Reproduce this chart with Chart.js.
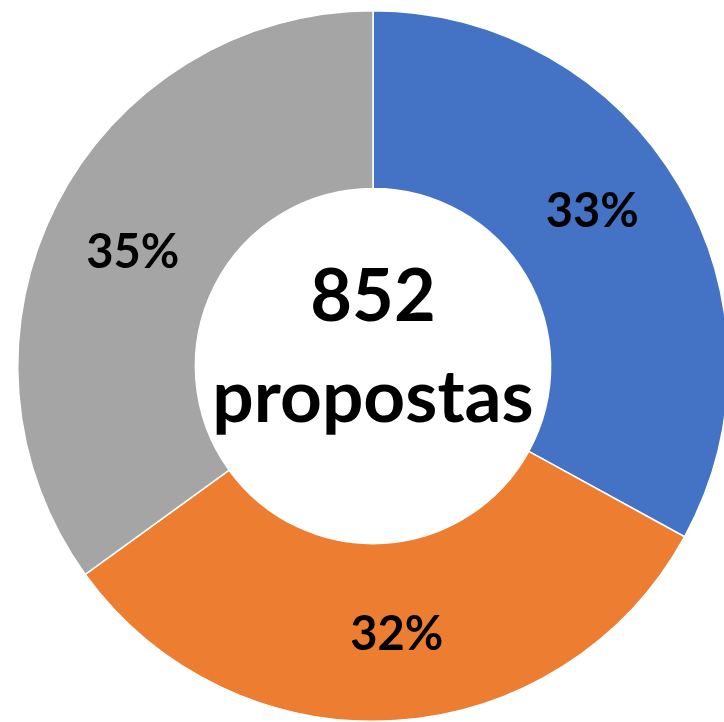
<!DOCTYPE html>
<html>
<head>
<meta charset="utf-8">
<script src="https://cdn.jsdelivr.net/npm/chart.js@4/dist/chart.umd.min.js"></script>
<style>
  html, body { margin: 0; padding: 0; background: #fff; overflow: hidden; }
  #wrap { position: absolute; left: 0; top: 0; width: 746px; height: 732px; }
</style>
</head>
<body>
<div id="wrap"><canvas id="donut"></canvas></div>
<script>
// Proposals per group (total 852)
const categories = ['Grupo A', 'Grupo B', 'Grupo C'];
const proposals = [281, 273, 298];
const percentLabels = ['33%', '32%', '35%'];
const centerLines = ['852', 'propostas'];
const colors = ['#4472C4', '#ED7D31', '#A5A5A5'];

// Draws the percentages on the ring and the total in the hole
const donutText = {
    id: 'donutText',
    afterDatasetsDraw(chart) {
        const ctx = chart.ctx;
        const meta = chart.getDatasetMeta(0);
        // small nudges so labels sit where the original put them
        const nudge = [[-10, -18], [7, 3], [-3, 8]];
        ctx.save();
        ctx.fillStyle = '#000';
        ctx.textAlign = 'center';
        ctx.textBaseline = 'middle';
        ctx.font = 'bold 47px Lato';
        meta.data.forEach((arc, i) => {
            const pos = arc.tooltipPosition();
            ctx.fillText(percentLabels[i], pos.x + nudge[i][0], pos.y + nudge[i][1]);
        });

        const first = meta.data[0];
        const cx = first.x, cy = first.y;
        ctx.font = 'bold 72px Lato';
        ctx.fillText(centerLines[0], cx, cy - 68);
        ctx.font = 'bold 73px Lato';
        ctx.fillText(centerLines[1], cx, cy + 32);
        ctx.restore();
    }
};

new Chart(document.getElementById('donut').getContext('2d'), {
    type: 'doughnut',
    data: {
        labels: categories,
        datasets: [{
            data: proposals,
            backgroundColor: colors,
            borderColor: '#fff',
            borderWidth: 1.5
        }]
    },
    options: {
        responsive: true,
        maintainAspectRatio: false,
        animation: false,
        cutout: '50%',
        layout: { padding: 10 },
        plugins: {
            legend: { display: false },
            tooltip: { enabled: false }
        }
    },
    plugins: [donutText]
});
</script>
</body>
</html>
